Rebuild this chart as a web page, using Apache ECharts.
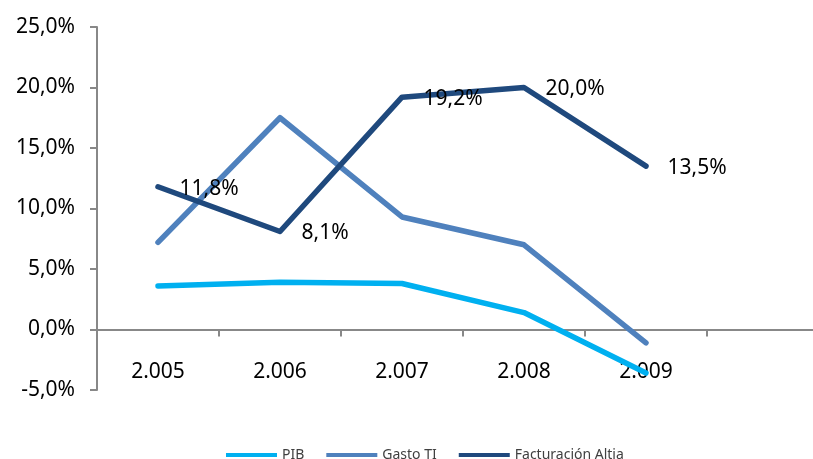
<!DOCTYPE html>
<html><head><meta charset="utf-8">
<script src="https://cdn.jsdelivr.net/npm/echarts@6/dist/echarts.min.js"></script>
<style>html,body{margin:0;padding:0;background:#fff}#c{width:813px;height:459px}</style>
</head><body><div id="c"></div>
<script>
const categories = ['2.005','2.006','2.007','2.008','2.009',''];
const pib = [3.6, 3.9, 3.8, 1.4, -3.6];
const gastoTI = [7.2, 17.5, 9.3, 7.0, -1.1];
const facturacion = [11.8, 8.1, 19.2, 20.0, 13.5];
const seriesNames = ['PIB','Gasto TI','Facturación Altia'];
const colors = ['#00B0F0','#4F81BD','#1F497D'];
const fmt = v => v.toFixed(1).replace('.', ',') + '%';
const chart = echarts.init(document.getElementById('c'));
const font = 'Noto Sans';
const lineSeries = (i, data, extra) => Object.assign({
  name: seriesNames[i], type:'line', data: data,
  symbol:'circle', symbolSize:1, showSymbol:true,
  lineStyle:{width:5.5, cap:'round', join:'round'},
  emphasis:{disabled:true}
}, extra || {});
chart.setOption({
  animation:false,
  color: colors,
  grid:{left:97, width:732, top:27, height:363, containLabel:false, outerBoundsMode:'none'},
  legend:{
    top:443, left:221, itemWidth:51, itemHeight:4, itemGap:22,
    icon:'rect',
    textStyle:{fontFamily:font,fontSize:14,color:'#404040', padding:[0,0,0,0]},
    data:seriesNames
  },
  xAxis:{
    type:'category', data:categories, boundaryGap:true,
    axisLine:{onZero:true, lineStyle:{color:'#888',width:2}},
    axisTick:{show:true, length:7, interval:0, lineStyle:{color:'#888',width:2}},
    axisLabel:{margin:-28, fontFamily:font, fontSize:21, color:'#000', interval:0}
  },
  yAxis:{
    type:'value', min:-5, max:25, interval:5,
    splitLine:{show:false},
    axisLine:{show:true, lineStyle:{color:'#888',width:2}},
    axisTick:{show:true, length:7, lineStyle:{color:'#888',width:2}},
    axisLabel:{margin:22, fontFamily:font, fontSize:21, color:'#000', formatter: v => fmt(v)}
  },
  series:[
    lineSeries(0, pib),
    lineSeries(1, gastoTI),
    lineSeries(2, facturacion, {
      label:{show:true, position:'right', distance:21, offset:[0,2], fontFamily:font, fontSize:21, color:'#000', formatter:p => fmt(p.value)}
    })
  ]
});
</script></body></html>
